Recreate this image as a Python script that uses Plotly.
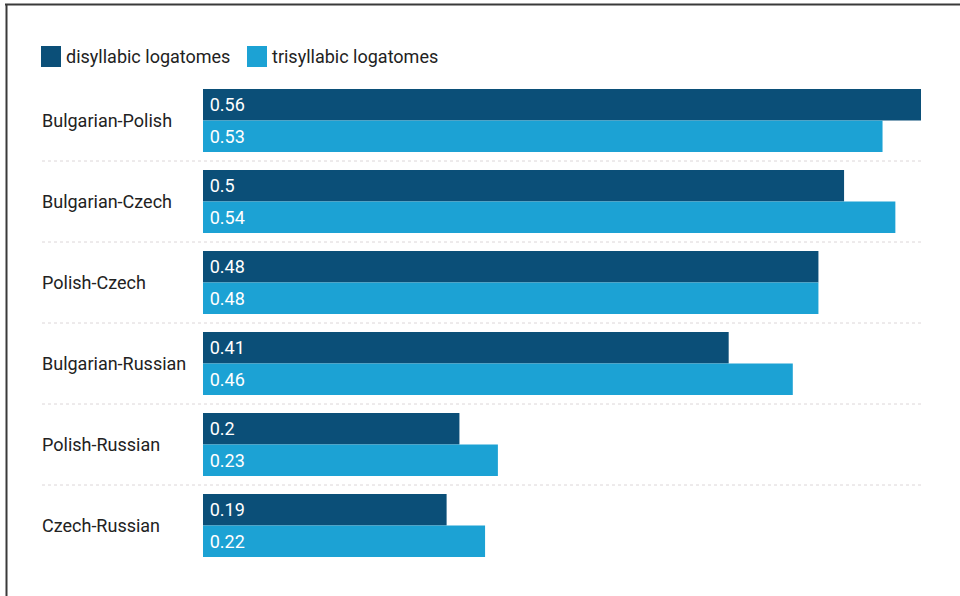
import plotly.graph_objects as go

# Language pairs and similarity scores per logatome type
pairs = ["Bulgarian-Polish", "Bulgarian-Czech", "Polish-Czech",
         "Bulgarian-Russian", "Polish-Russian", "Czech-Russian"]
disyllabic = [0.56, 0.5, 0.48, 0.41, 0.2, 0.19]
trisyllabic = [0.53, 0.54, 0.48, 0.46, 0.23, 0.22]
series_names = ["disyllabic logatomes", "trisyllabic logatomes"]

DARK = "#0b4f78"
LIGHT = "#1ca2d4"
FONT = "Roboto"
FS = 18

W, H = 960, 596
ML, MR, MT, MB = 203, 39, 80, 30
PW, PH = W - ML - MR, H - MT - MB


def px_x(px):
    return (px - ML) / PW


def px_y(py):
    return (H - MB - py) / PH


fig = go.Figure()
for name, vals, col in [(series_names[0], disyllabic, DARK),
                        (series_names[1], trisyllabic, LIGHT)]:
    fig.add_trace(go.Bar(
        y=pairs, x=vals, orientation="h", name=name,
        marker=dict(color=col, line=dict(width=0)),
        text=["\u2009" + str(v) for v in vals], textposition="inside",
        insidetextanchor="start", constraintext="none",
        textfont=dict(family=FONT, size=FS, color="white"),
        showlegend=False,
    ))

shapes = []
annotations = []

# dotted separators between categories
for i in range(len(pairs) - 1):
    shapes.append(dict(type="line", xref="paper", yref="y",
                       x0=px_x(42), x1=px_x(921), y0=i + 0.5, y1=i + 0.5,
                       line=dict(color="#dcd6d8", width=1, dash="dot")))

# category labels, left-aligned
for p in pairs:
    annotations.append(dict(xref="paper", yref="y", x=px_x(40), y=p,
                            text=p, showarrow=False, xanchor="left",
                            font=dict(family=FONT, size=FS, color="#222222")))

# legend swatches and labels
for name, col, sx, tx in [(series_names[0], DARK, 41, 64),
                          (series_names[1], LIGHT, 247, 270)]:
    shapes.append(dict(type="rect", xref="paper", yref="paper",
                       x0=px_x(sx), x1=px_x(sx + 20), y0=px_y(67), y1=px_y(46),
                       fillcolor=col, line=dict(width=0)))
    annotations.append(dict(xref="paper", yref="paper", x=px_x(tx), y=px_y(57),
                            text=name, showarrow=False, xanchor="left",
                            yanchor="middle",
                            font=dict(family=FONT, size=FS, color="#222222")))

# frame lines on top and left
shapes.append(dict(type="line", xref="paper", yref="paper",
                   x0=px_x(5), x1=px_x(962), y0=px_y(4.5), y1=px_y(4.5),
                   line=dict(color="#3a3a3a", width=2)))
shapes.append(dict(type="line", xref="paper", yref="paper",
                   x0=px_x(6.5), x1=px_x(6.5), y0=px_y(4), y1=px_y(600),
                   line=dict(color="#3a3a3a", width=2)))

fig.update_layout(
    width=W, height=H,
    margin=dict(l=ML, r=MR, t=MT, b=MB),
    paper_bgcolor="white", plot_bgcolor="white",
    barmode="group", bargap=0.222, bargroupgap=0,
    xaxis=dict(range=[0, 0.56], visible=False, fixedrange=True),
    yaxis=dict(autorange="reversed", showticklabels=False, showgrid=False,
               zeroline=False, showline=False, ticks=""),
    shapes=shapes, annotations=annotations,
    font=dict(family=FONT),
    uniformtext=dict(mode=False),
)

fig.write_html("out.html")
